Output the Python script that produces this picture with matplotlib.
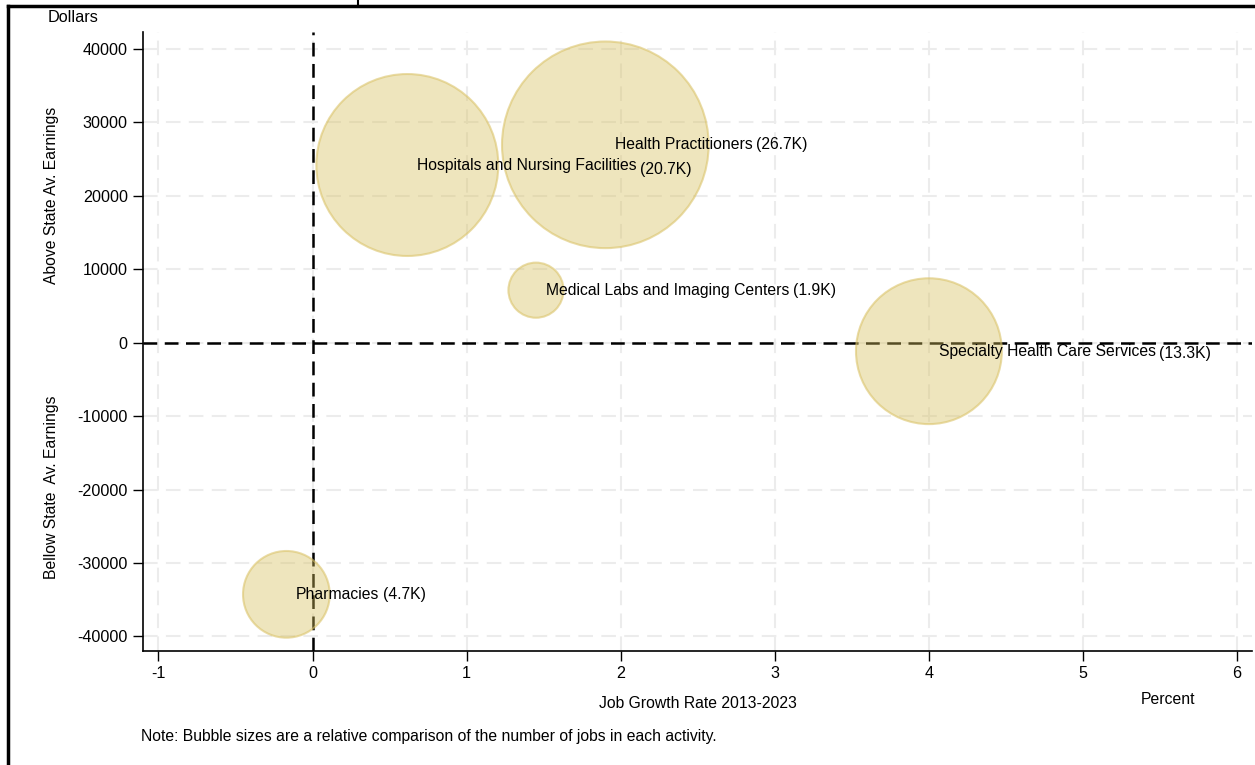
import matplotlib
matplotlib.use("Agg")
import matplotlib.pyplot as plt
from matplotlib.lines import Line2D
import numpy as np

plt.rcParams['font.family'] = ['Liberation Sans', 'DejaVu Sans']

# bubble data
names = ["Hospitals and Nursing Facilities", "Health Practitioners",
         "Medical Labs and Imaging Centers", "Specialty Health Care Services",
         "Pharmacies"]
jobs_k = [20.7, 26.7, 1.9, 13.3, 4.7]
growth = [0.615, 1.90, 1.45, 4.0, -0.17]
earn_diff = [24200, 26950, 7150, -1160, -34280]
size_labels = ["(20.7K)", "(26.7K)", "(1.9K)", "(13.3K)", "(4.7K)"]
name_dy = [0, 0, 0, -0.5, 0]
paren_dy = [-3, 0, 0, -1, 0]   # small vertical offset of the size label

xticks = [-1, 0, 1, 2, 3, 4, 5, 6]
yticks = [-40000, -30000, -20000, -10000, 0, 10000, 20000, 30000, 40000]

FS = 11.3

fig = plt.figure(figsize=(12.55, 7.65), dpi=100)
ax = fig.add_axes([0.114, 0.149, 0.884, 0.809])

# grid
for xv in xticks:
    ax.axvline(xv, color="#ececec", lw=1.5, ls=(0, (7, 4)), zorder=0)
for yv in yticks:
    ax.axhline(yv, color="#ececec", lw=1.5, ls=(0, (7, 4)), zorder=0)

# reference lines
ax.axvline(0, color="black", lw=1.8, ls=(0, (5.5, 3)), zorder=1)
ax.axhline(0, color="black", lw=1.8, ls=(0, (5.5, 3)), zorder=1)

sizes = np.array(jobs_k) * 829
ax.scatter(growth, earn_diff, s=sizes, facecolor=(0.84, 0.75, 0.36, 0.4),
           edgecolor=(0.86, 0.77, 0.42, 0.6), linewidth=1.5, zorder=2)

for x, y, n, p, ndy, dy in zip(growth, earn_diff, names, size_labels,
                               name_dy, paren_dy):
    t = ax.annotate(n, xy=(x, y), xytext=(7, ndy), textcoords="offset points",
                    fontsize=FS, va="center", ha="left", zorder=3)
    ax.annotate(p, xy=(1, 0.5), xycoords=t, xytext=(2.5, dy),
                textcoords="offset points", fontsize=FS, va="center",
                ha="left", zorder=3)

ax.set_xlim(-1.1, 6.1)
ax.set_ylim(-42000, 42300)
ax.set_xticks(xticks)
ax.set_yticks(yticks)
ax.set_xticklabels([str(v) for v in xticks])
ax.set_yticklabels([str(v) for v in yticks])
ax.tick_params(axis="both", direction="out", length=7, width=1, labelsize=11.6,
               pad=4)
for s in ["top", "right"]:
    ax.spines[s].set_visible(False)
for s in ["left", "bottom"]:
    ax.spines[s].set_linewidth(1.2)

# axis titles
fig.text(698 / 1255, 1 - 703 / 765, "Job Growth Rate 2013-2023", fontsize=FS,
         ha="center", va="center")
fig.text(1168 / 1255, 1 - 699 / 765, "Percent", fontsize=FS,
         ha="center", va="center")
fig.text(48 / 1255, 1 - 18 / 765, "Dollars", fontsize=FS + 0.4,
         ha="left", va="center")
fig.text(52 / 1255, 1 - 195 / 765, "Above State Av. Earnings", fontsize=FS,
         rotation=90, ha="center", va="center")
fig.text(52 / 1255, 1 - 487 / 765, "Bellow State  Av. Earnings", fontsize=FS,
         rotation=90, ha="center", va="center")
fig.text(141 / 1255, 1 - 737 / 765,
         "Note: Bubble sizes are a relative comparison of the number of jobs in each activity.",
         fontsize=FS, ha="left", va="center")

# outer frame pieces
fig.add_artist(Line2D([8 / 1255, 1.0], [1 - 6 / 765, 1 - 6 / 765],
                      color="black", lw=2.5))
fig.add_artist(Line2D([8 / 1255, 8 / 1255], [0, 1 - 6 / 765],
                      color="black", lw=2.5))
fig.add_artist(Line2D([358 / 1255, 358 / 1255], [1 - 6 / 765, 1.0],
                      color="black", lw=1.5))

fig.savefig("out.png", dpi=100)
